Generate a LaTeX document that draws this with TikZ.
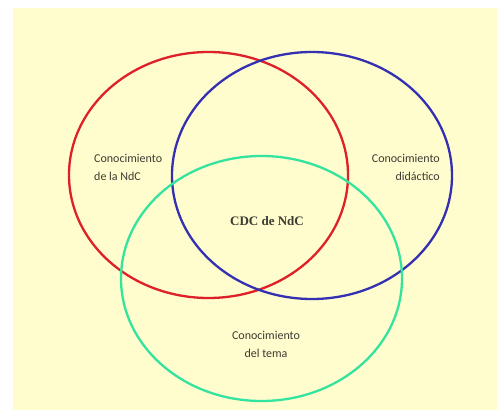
\documentclass[tikz,border=0pt]{standalone}
\usepackage{fontspec}
\setmainfont{Carlito}
\newfontfamily\cdcfont{Liberation Serif}
\usepackage{tikz}
\definecolor{myred}{RGB}{222,32,40}
\definecolor{myblue}{RGB}{52,48,178}
\definecolor{mygreen}{RGB}{52,228,158}
\definecolor{mybg}{RGB}{255,252,206}
\definecolor{mytext}{RGB}{60,60,50}
\tikzstyle{ring} = [line width=2.3pt]
\tikzstyle{label} = [text=mytext,font=\fontsize{12}{18}\selectfont,inner sep=0pt]

\begin{document}
\begin{tikzpicture}[x=1pt,y=-1pt]
        \useasboundingbox (0,0) rectangle (497,411);
        % background
        \fill[white] (0,0) rectangle (497,411);
        \fill[mybg] (13,8) rectangle (497,410);
        % circles
        \draw[ring,color=myred] (208.5,175) ellipse [x radius=139.5, y radius=123];
        \draw[ring,color=myblue] (312,175.5) ellipse [x radius=140, y radius=123.5];
        \draw[ring,color=mygreen] (261.5,278.5) ellipse [x radius=140.5, y radius=122.5];
        % labels
        \node[label,align=left,anchor=west] (ndc) at (94,167) {Conocimiento\\de la NdC};
        \node[label,align=right,anchor=east] (did) at (440,167) {Conocimiento\\did\'actico};
        \node[label,align=center] (tema) at (266,344) {Conocimiento\\del tema};
        \node[label,font=\cdcfont\bfseries\fontsize{13}{16}\selectfont] (cdc) at (267,221) {CDC de NdC};
    \end{tikzpicture}
\end{document}
